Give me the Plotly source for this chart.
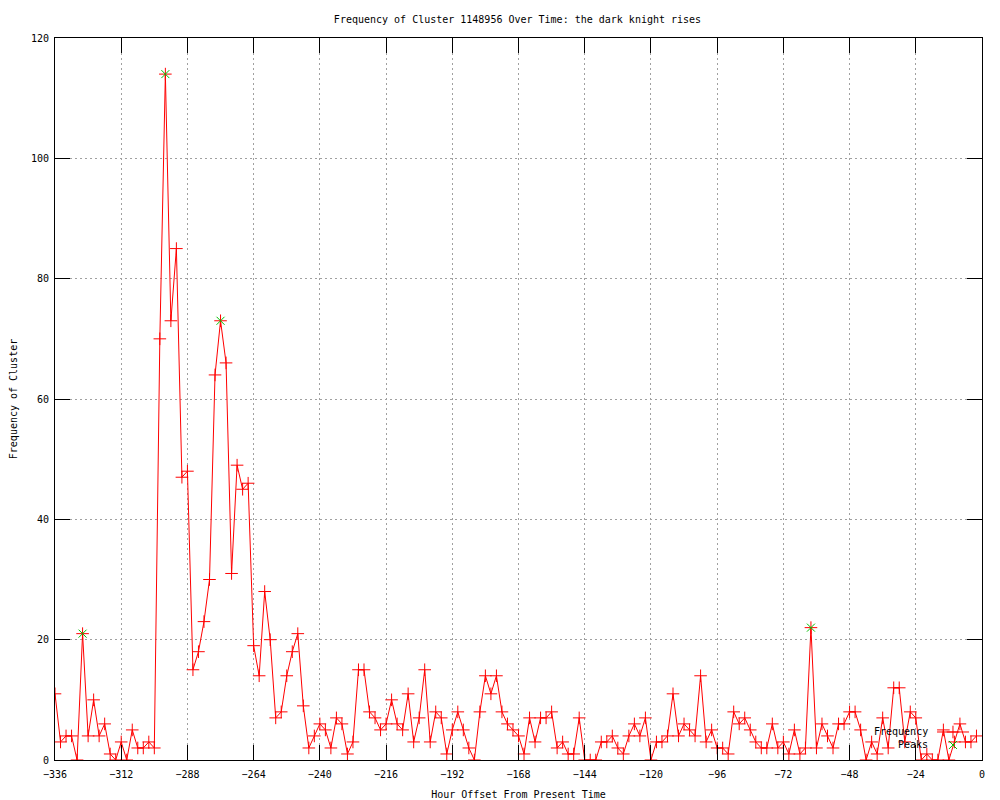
import plotly.graph_objects as go

# ---- data ----
hours = list(range(-336, 0, 2))
freq = [11, 3, 4, 4, 0, 21, 4, 10, 4, 6, 1, 0, 3, 0, 5, 2, 2, 3, 2,
        70, 114, 73, 85, 47, 48, 15, 18, 23, 30, 64, 73,
        66, 31, 49, 45, 46, 19, 14, 28, 20, 7,
        8, 14, 18, 21, 9, 2, 4, 6, 5, 2,
        7, 6, 1, 3, 15, 15, 8, 7, 5, 6,
        10, 6, 5, 11, 3, 7, 15, 3, 8, 7,
        1, 5, 8, 5, 2, 0, 8, 14, 11, 14,
        8, 6, 5, 4, 1, 7, 3, 7, 7, 8,
        2, 3, 1, 1, 7, 0, 0, 0, 3, 3,
        4, 2, 1, 4, 6, 4, 7, 0, 3, 3,
        4, 11, 4, 6, 5, 4, 14, 3, 5, 2,
        2, 1, 8, 6, 7, 5, 3, 2, 2, 6,
        2, 3, 1, 5, 1, 2, 22, 2, 6, 4,
        2, 6, 6, 8, 8, 5, 0, 3, 1, 7,
        2, 12, 12, 3, 8, 7, 0, 1, 0, 0,
        5, 0, 3, 6, 3, 3, 4]
peak_hours = [-326, -296, -276, -62]
peak_vals = [21, 114, 73, 22]

title_text = "Frequency of Cluster 1148956 Over Time: the dark knight rises"
x_label = "Hour Offset From Present Time"
y_label = "Frequency of Cluster"
x_ticks = list(range(-336, 1, 24))
y_ticks = list(range(0, 121, 20))
legend_names = ["Frequency", "Peaks"]

RED = "#ff0000"
GREEN = "#00c000"
FONT = dict(family="DejaVu Sans Mono", size=10, color="black")

# page body has an 8px margin in the browser; size the figure to fit inside
W, H = 992, 792

fig = go.Figure()
fig.add_trace(go.Scatter(
    x=hours, y=freq, mode="lines+markers", name=legend_names[0],
    line=dict(color=RED, width=1),
    marker=dict(symbol="cross-thin", size=9, line=dict(color=RED, width=1)),
    showlegend=False))
fig.add_trace(go.Scatter(
    x=peak_hours, y=peak_vals, mode="markers", name=legend_names[1],
    marker=dict(symbol="x-thin", size=8, line=dict(color=GREEN, width=1)),
    showlegend=False))

# manual gnuplot-style key on an overlay unit axis
lx0, lx1, lxm = 0.9515, 0.986, 0.9687
ly1, ly2 = 0.0388, 0.0208
fig.add_trace(go.Scatter(
    x=[lx0, lxm, lx1], y=[ly1, ly1, ly1], mode="lines", xaxis="x2", yaxis="y2",
    line=dict(color=RED, width=1), showlegend=False, hoverinfo="skip"))
fig.add_trace(go.Scatter(
    x=[lxm], y=[ly1], mode="markers", xaxis="x2", yaxis="y2",
    marker=dict(symbol="cross-thin", size=9, line=dict(color=RED, width=1)),
    showlegend=False, hoverinfo="skip"))
fig.add_trace(go.Scatter(
    x=[lxm], y=[ly2], mode="markers", xaxis="x2", yaxis="y2",
    marker=dict(symbol="x-thin", size=8, line=dict(color=GREEN, width=1)),
    showlegend=False, hoverinfo="skip"))
for name, yy in zip(legend_names, [ly1, ly2]):
    fig.add_annotation(x=0.944, y=yy, xref="paper", yref="paper", text=name,
                       showarrow=False, xanchor="right", yanchor="middle", font=FONT)

axis_common = dict(
    showline=True, linecolor="black", linewidth=1, mirror="ticks",
    ticks="inside", ticklen=15, tickcolor="black", tickwidth=1,
    showgrid=True, gridcolor="#a0a0a0", griddash="2px,3px", gridwidth=1,
    zeroline=False, tickfont=FONT, automargin=False,
)
fig.update_layout(
    width=W, height=H,
    margin=dict(l=47, r=18, t=30, b=40),
    paper_bgcolor="white", plot_bgcolor="white",
    font=FONT,
    title=dict(text=title_text, x=509.5 / W, xref="container", xanchor="center",
               y=1 - 11 / H, yref="container", yanchor="middle", font=FONT),
    xaxis=dict(range=[-336, 0], tickmode="array", tickvals=x_ticks,
               ticklabelstandoff=5,
               title=dict(text=x_label, font=FONT, standoff=16), **axis_common),
    yaxis=dict(range=[0, 120], tickmode="array", tickvals=y_ticks,
               ticklabelstandoff=3,
               title=dict(text=y_label, font=FONT, standoff=16), **axis_common),
    xaxis2=dict(range=[0, 1], overlaying="x", visible=False),
    yaxis2=dict(range=[0, 1], overlaying="y", visible=False),
    showlegend=False,
)

fig.write_html("out.html")
